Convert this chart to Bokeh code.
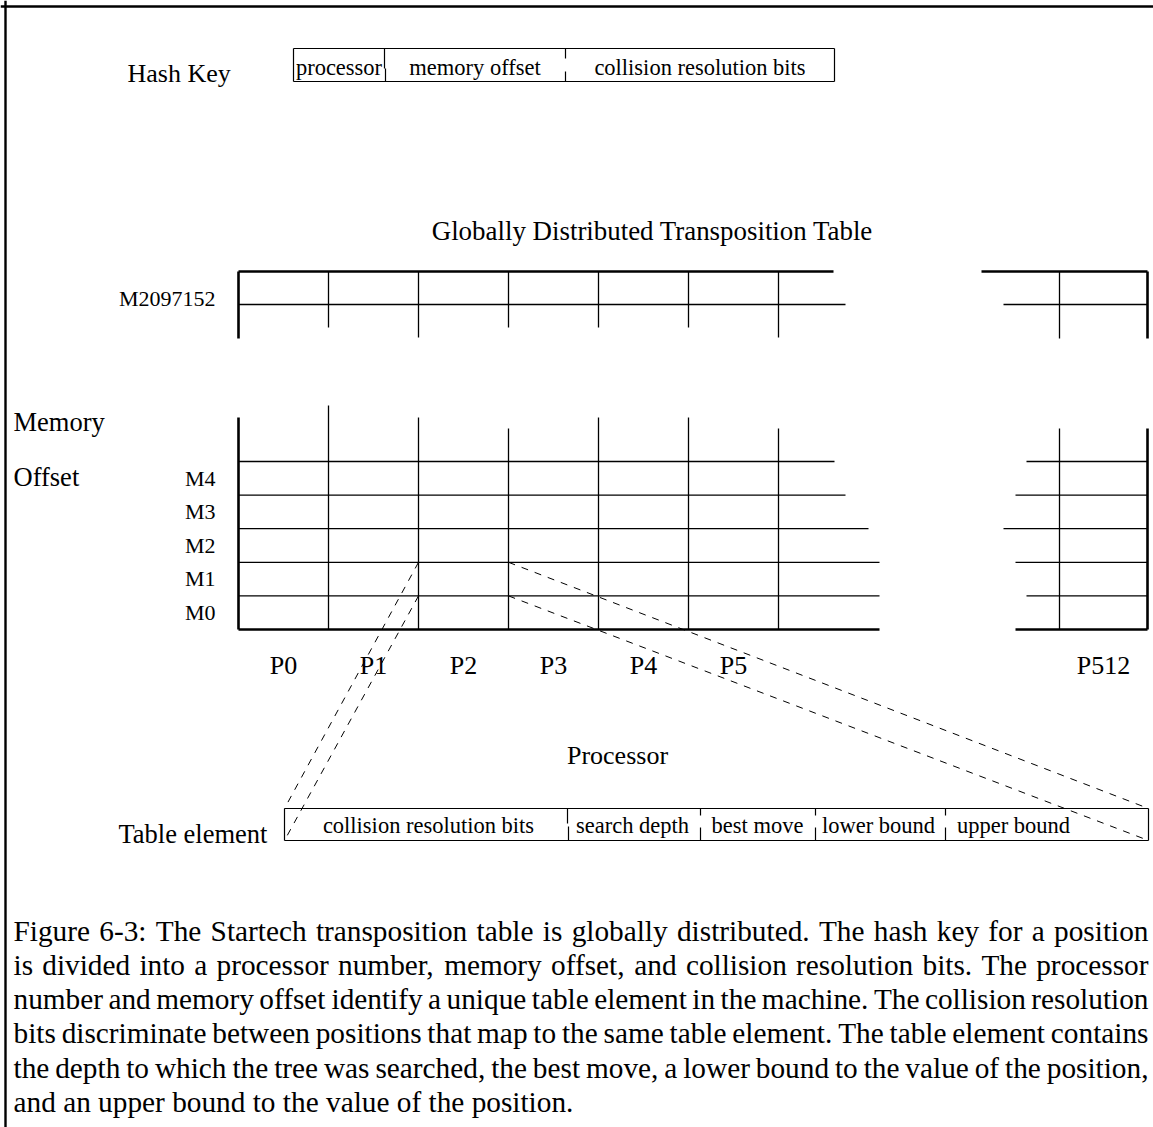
from bokeh.plotting import figure
from bokeh.models import Range1d
from bokeh.core.properties import value
from bokeh.embed import file_html
from bokeh.resources import INLINE

# ---------------- data (labels of the diagram) ----------------
hash_key_label = "Hash Key"
hash_key_fields = ["processor", "memory offset", "collision resolution bits"]
title_text = "Globally Distributed Transposition Table"
top_row_label = "M2097152"
memory_row_labels = ["M0", "M1", "M2", "M3", "M4"]
axis_left_labels = ["Memory", "Offset"]
processor_labels = ["P0", "P1", "P2", "P3", "P4", "P5", "P512"]
processor_axis_label = "Processor"
table_element_label = "Table element"
table_element_fields = ["collision resolution bits", "search depth", "best move",
                        "lower bound", "upper bound"]
caption_lines = [
    "Figure 6-3:  The Startech transposition table is globally distributed. The hash key for a position",
    "is divided into a processor number, memory offset, and collision resolution bits. The processor",
    "number and memory offset identify a unique table element in the machine. The collision resolution",
    "bits discriminate between positions that map to the same table element. The table element contains",
    "the depth to which the tree was searched, the best move, a lower bound to the value of the position,",
    "and an upper bound to the value of the position.",
]

# ---------------- canvas ----------------
W, H = 1153, 1127
p = figure(width=W, height=H, x_range=Range1d(0, W), y_range=Range1d(H, 0),
           output_backend="svg", toolbar_location=None, min_border=0,
           x_axis_type=None, y_axis_type=None, outline_line_color=None)
p.grid.visible = False
p.background_fill_color = "white"
p.border_fill_color = "white"

FONT = value("Liberation Serif")

segs = {"x0": [], "y0": [], "x1": [], "y1": [], "w": []}


def seg(x0, y0, x1, y1, w=1.2):
    segs["x0"].append(x0); segs["y0"].append(y0)
    segs["x1"].append(x1); segs["y1"].append(y1)
    segs["w"].append(w)


def txt(xs, ys, texts, size, align="left"):
    # ys are wanted baselines; the renderer places text ~0.33em lower
    p.text(x=xs, y=[y - 0.33 * size for y in ys], text=texts, text_font=FONT,
           text_font_size=value(f"{size:.2f}px"), text_align=align,
           text_baseline="alphabetic", text_color="black")


THICK, THIN = 2.6, 1.3

# outer frame
seg(0, 6, W, 6, 2.4)
seg(5, 0, 5, H, 2.4)

# ---------------- hash key ----------------
txt([127], [82], [hash_key_label], 26)
hk_l, hk_r, hk_t, hk_b = 293, 834, 48, 81
hk_div = [384, 565]
seg(hk_l, hk_t, hk_r, hk_t); seg(hk_l, hk_b, hk_r, hk_b)
seg(hk_l, hk_t, hk_l, hk_b); seg(hk_r, hk_t, hk_r, hk_b)
seg(hk_div[0], hk_t, hk_div[0], 68); seg(hk_div[0] + 1, 68, hk_div[0] + 1, hk_b)
seg(hk_div[1], hk_t, hk_div[1], 58); seg(hk_div[1], 71, hk_div[1], hk_b)
edges = [hk_l] + hk_div + [hk_r]
txt([(edges[i] + edges[i + 1]) / 2 for i in range(3)], [74] * 3, hash_key_fields, 22.5, "center")

# ---------------- title ----------------
txt([652], [239], [title_text], 26.9, "center")

# ---------------- grid geometry ----------------
gl, colw = 238, 90
cols = [gl + colw * i for i in range(7)]          # 238 .. 778
col_far, right_edge = 1059, 1147

# upper (M2097152) row
ut, um, ub = 271, 304, 338
seg(gl, ut, 833, ut, THICK); seg(981, ut, right_edge, ut, THICK)
seg(gl, ut, gl, ub, THICK); seg(right_edge, ut, right_edge, ub, THICK)
seg(gl, um, 845, um, THIN); seg(1003, um, right_edge, um, THIN)
up_bottoms = [327, 337, 327, 327, 327, 337]
for c, b in zip(cols[1:], up_bottoms):
    seg(c, ut, c, b, THIN)
seg(col_far, ut, col_far, ub, THIN)
txt([215], [305], [top_row_label], 22, "right")

# lower rows M0..M4
lb = 629
row_h = 33.6
row_y = [lb - row_h * (k + 1) for k in range(5)]   # M0 top .. M4 top
left_end = [879, 879, 868, 845, 834]
right_start = [1026, 1015, 1003, 1015, 1026]
for y, le, rs in zip(row_y, left_end, right_start):
    seg(gl, y, le, y, THIN)
    seg(rs, y, right_edge, y, THIN)
seg(gl, 417, gl, lb, THICK)
seg(gl, lb, 879, lb, THICK)
seg(1015, lb, right_edge, lb, THICK)
seg(right_edge, 428, right_edge, lb, THICK)
low_tops = [405, 417, 428, 417, 417, 428]
for c, t in zip(cols[1:], low_tops):
    seg(c, t, c, lb, THIN)
seg(col_far, 428, col_far, lb, THIN)

txt([13, 13], [430, 485], axis_left_labels, 26.5)
txt([215] * 5, [y + row_h / 2 + 7 for y in row_y], memory_row_labels, 22, "right")

# processor labels at column centres
p_x = [c + colw / 2 for c in cols[:6]] + [(col_far + right_edge) / 2]
txt(p_x, [674] * len(processor_labels), processor_labels, 26, "center")
txt([617], [764], [processor_axis_label], 26, "center")

# ---------------- table element ----------------
te_l, te_r, te_t, te_b = 284, 1148, 808, 840
seg(te_l, te_t, te_r, te_t); seg(te_l, te_b, te_r, te_b)
seg(te_l, te_t, te_l, te_b); seg(te_r, te_t, te_r, te_b)
te_div = [567, 700, 815, 945]
seg(te_div[0], te_t, te_div[0], 823); seg(te_div[0] + 1, 826, te_div[0] + 1, te_b)
for d in te_div[1:]:
    seg(d, te_t, d, 815); seg(d, 827, d, te_b)
txt([118], [842], [table_element_label], 26.5)
txt([428, 632, 757, 878, 1013], [832] * 5, table_element_fields, 22.5, "center")

# dashed projection lines from the selected cell to the table element
m1_top, m0_top = row_y[1], row_y[0]
p.segment(x0=[cols[2], cols[2], cols[3], cols[3]],
          y0=[m1_top, m0_top, m1_top, m0_top],
          x1=[te_l, te_l, te_r, te_r],
          y1=[te_t, te_b, te_t, te_b],
          line_color="black", line_width=1.0, line_dash="7 7")

p.segment(x0="x0", y0="y0", x1="x1", y1="y1", line_width="w", line_color="black",
          source=segs)

# ---------------- caption (justified) ----------------
AFM = {' ': 250, '!': 333, ',': 250, '-': 333, '.': 250, ':': 278, ';': 278,
       '0': 500, '1': 500, '2': 500, '3': 500, '4': 500, '5': 500, '6': 500,
       '7': 500, '8': 500, '9': 500,
       'A': 722, 'B': 667, 'C': 667, 'D': 722, 'E': 611, 'F': 556, 'G': 722,
       'H': 722, 'I': 333, 'J': 389, 'K': 722, 'L': 611, 'M': 889, 'N': 722,
       'O': 722, 'P': 556, 'Q': 722, 'R': 667, 'S': 556, 'T': 611, 'U': 722,
       'V': 722, 'W': 944, 'X': 722, 'Y': 722, 'Z': 611,
       'a': 444, 'b': 500, 'c': 444, 'd': 500, 'e': 444, 'f': 333, 'g': 500,
       'h': 500, 'i': 278, 'j': 278, 'k': 500, 'l': 278, 'm': 778, 'n': 500,
       'o': 500, 'p': 500, 'q': 500, 'r': 333, 's': 389, 't': 278, 'u': 500,
       'v': 500, 'w': 722, 'x': 500, 'y': 500, 'z': 444}
CAP_SIZE = 29.3
cap_left, cap_right = 13, 1148
cap_base0, cap_step = 940, 34.2


def width(s):
    return sum(AFM.get(ch, 500) for ch in s) * CAP_SIZE / 1000


wx, wy, wt = [], [], []
for i, line in enumerate(caption_lines):
    words = line.split()
    ws = [width(w) for w in words]
    y = cap_base0 + cap_step * i
    if i < len(caption_lines) - 1:
        gap = (cap_right - cap_left - sum(ws)) / (len(words) - 1)
    else:
        gap = width(" ")
    x = cap_left
    for w, wd in zip(words, ws):
        wx.append(x); wy.append(y); wt.append(w)
        x += wd + gap
txt(wx, wy, wt, CAP_SIZE)

open("out.html", "w").write(file_html(p, INLINE))
